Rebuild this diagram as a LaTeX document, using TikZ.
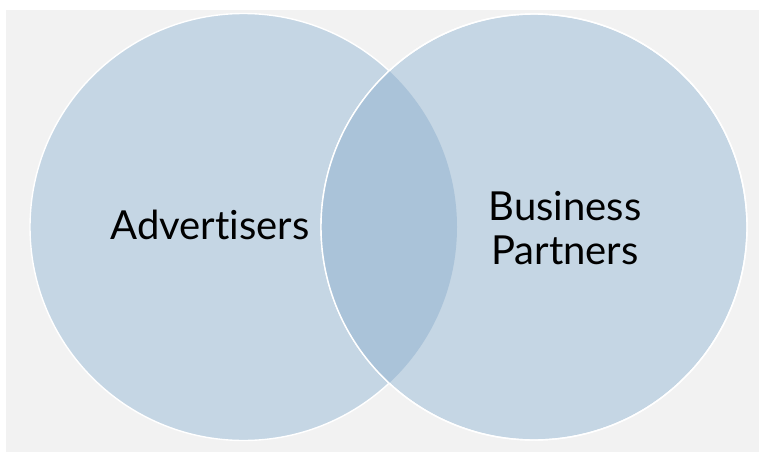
\documentclass[tikz,border=0pt]{standalone}
\usepackage{fontspec}
\setmainfont{Lato}[Ligatures={NoCommon}]
\definecolor{bgray}{HTML}{F2F2F2}
\definecolor{cfill}{HTML}{C5D6E4}
\definecolor{ofill}{HTML}{AAC3D9}
\begin{document}
\begin{tikzpicture}[x=1pt,y=-1pt,
  vlabel/.style={font=\fontsize{40}{44}\selectfont, inner sep=0pt, text=black, align=center},
  vcircle/.style={fill=cfill, draw=white, line width=1.4pt}]
\useasboundingbox (0,0) rectangle (759,452);
\fill[white] (0,0) rectangle (759,452);
\fill[bgray] (6,10) rectangle (759,452);
\path[vcircle] (243.5,227) circle[radius=213.5];
\path[vcircle] (534,227) circle[radius=213];
\begin{scope}
  \clip (243.5,227) circle[radius=213.5];
  \fill[ofill] (534,227) circle[radius=213];
\end{scope}
\draw[white, line width=1.4pt] (534,227) circle[radius=213];
\node[vlabel, anchor=base] (adv) at (210,239) {Advertisers};
\node[vlabel] (bp) at (565,228) {Business\\Partners};
\end{tikzpicture}
\end{document}
